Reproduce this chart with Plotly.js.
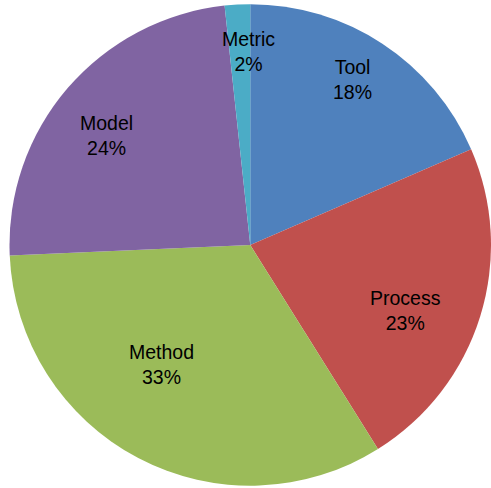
<!DOCTYPE html>
<html>
<head>
<meta charset="utf-8">
<script src="https://cdn.plot.ly/plotly-3.0.1.min.js"></script>
<style>html,body{margin:0;padding:0;background:#fff;}#chart{width:491px;height:488px;}</style>
</head>
<body>
<div id="chart"></div>
<script>
// Data
const categories = ["Tool", "Process", "Method", "Model", "Metric"];
const values = [18.49, 22.61, 33.2, 24.0, 1.7];
const colors = ["#4F81BD", "#C0504D", "#9BBB59", "#8064A2", "#4BACC6"];

// Label placement styles (fraction of radius, angle offset in degrees)
const labelRadius = [0.808, 0.700, 0.619, 0.750, 0.804];
const labelAngleOffset = [-1.6, 5.65, 9.1, -3.25, 2.5];

const W = 491, H = 488;
const cx = 250.5, cy = 245, R = 241;

const total = values.reduce((a, b) => a + b, 0);
const pctText = values.map(v => Math.round(v / total * 100) + "%");

const annotations = [];
let cum = 0;
values.forEach((v, i) => {
  const mid = (cum + v / 2) / total * 360 + labelAngleOffset[i];
  cum += v;
  const a = mid * Math.PI / 180;
  const px = cx + R * labelRadius[i] * Math.sin(a);
  const py = cy - R * labelRadius[i] * Math.cos(a);
  annotations.push({
    xref: "paper", yref: "paper",
    x: px / W, y: (H - py) / H,
    xanchor: "center", yanchor: "middle",
    text: categories[i] + "<br>" + pctText[i],
    showarrow: false,
    font: {family: "Liberation Sans, Arial, sans-serif", size: 19.5, color: "#000"}
  });
});

const trace = {
  type: "pie",
  labels: categories,
  values: values,
  sort: false,
  direction: "clockwise",
  rotation: 0,
  marker: {colors: colors, line: {width: 0}},
  textinfo: "none",
  hoverinfo: "label+percent",
  domain: {x: [(cx - R) / W, Math.min(1, (cx + R) / W)], y: [(H - (cy + R)) / H, (H - (cy - R)) / H]}
};

const layout = {
  width: W, height: H,
  margin: {l: 0, r: 0, t: 0, b: 0},
  paper_bgcolor: "#fff",
  plot_bgcolor: "#fff",
  showlegend: false,
  annotations: annotations
};

Plotly.newPlot("chart", [trace], layout, {displayModeBar: false, staticPlot: true});
</script>
</body>
</html>
